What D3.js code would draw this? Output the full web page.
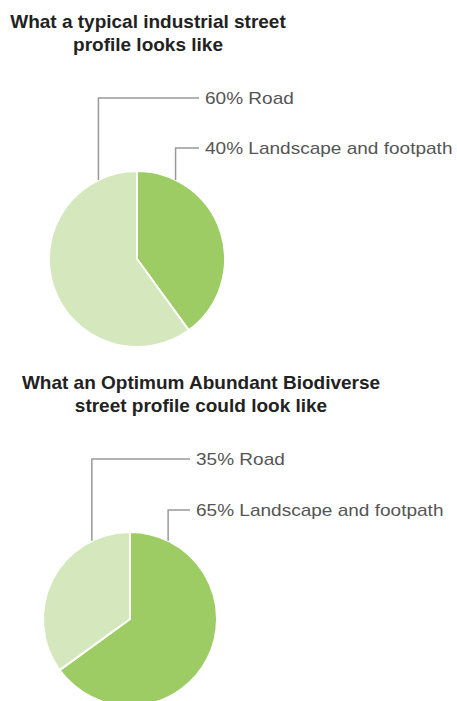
<!DOCTYPE html>
<html>
<head>
<meta charset="utf-8">
<script src="https://cdn.jsdelivr.net/npm/d3@7"></script>
<style>
  body { margin: 0; background: #fff; }
</style>
</head>
<body>
<div class="chart-container"></div>
<script>
// data
const categories = ["Landscape and footpath", "Road"];
const typicalValues = [40, 60];
const optimumValues = [65, 35];
const typicalTitle = ["What a typical industrial street", "profile looks like"];
const optimumTitle = ["What an Optimum Abundant Biodiverse", "street profile could look like"];

const colors = d3.scaleOrdinal()
  .domain(categories)
  .range(["#9ccc63", "#d5e8bd"]);

const svg = d3.select(".chart-container")
  .append("svg")
  .attr("width", 457)
  .attr("height", 701);

const pie = d3.pie()
  .sort(null)
  .value(d => d.value);

const CreatePie = (values, title, opt) => {
  const data = categories.map((c, i) => ({ category: c, value: values[i] }));
  const arc = d3.arc().innerRadius(0).outerRadius(opt.r);

  // Title
  svg.append("text")
    .attr("x", opt.titleX)
    .attr("y", opt.titleY)
    .attr("text-anchor", "middle")
    .style("font-family", "Liberation Sans, Arial, sans-serif")
    .style("font-weight", "bold")
    .style("font-size", "19px")
    .style("fill", "#222")
    .selectAll("tspan")
    .data(title)
    .enter()
    .append("tspan")
    .attr("x", opt.titleX)
    .attr("dy", (d, i) => i === 0 ? 0 : 23)
    .text(d => d);

  const g = svg.append("g")
    .attr("transform", `translate(${opt.cx}, ${opt.cy})`);

  g.selectAll("path")
    .data(pie(data))
    .enter()
    .append("path")
    .attr("d", arc)
    .attr("fill", d => colors(d.data.category))
    .attr("stroke", "#fff")
    .attr("stroke-width", 2);

  // Leader lines + labels (Road on top, landscape below)
  const leaders = [
    { category: "Road", angle: -26 * Math.PI / 180, y: opt.roadY },
    { category: "Landscape and footpath", angle: 26 * Math.PI / 180, y: opt.landY }
  ];

  leaders.forEach(l => {
    const v = values[categories.indexOf(l.category)];
    const px = opt.cx + opt.r * Math.sin(l.angle);
    const py = opt.cy - opt.r * Math.cos(l.angle);

    svg.append("path")
      .attr("d", `M${px},${py}V${l.y}H${opt.lineEnd}`)
      .attr("fill", "none")
      .attr("stroke", "#999")
      .attr("stroke-width", 1.5);

    svg.append("text")
      .attr("transform", `translate(${opt.textX}, ${l.y + 6}) scale(1.12, 1)`)
      .style("font-family", "Liberation Sans, Arial, sans-serif")
      .style("font-size", "17px")
      .style("fill", "#555")
      .text(`${v}% ${l.category}`);
  });
};

CreatePie(typicalValues, typicalTitle, {
  cx: 137, cy: 259, r: 88,
  titleX: 148, titleY: 28,
  roadY: 98, landY: 148,
  lineEnd: 199, textX: 205
});

CreatePie(optimumValues, optimumTitle, {
  cx: 130, cy: 619, r: 87,
  titleX: 201, titleY: 389,
  roadY: 459, landY: 510,
  lineEnd: 190, textX: 196
});
</script>
</body>
</html>
